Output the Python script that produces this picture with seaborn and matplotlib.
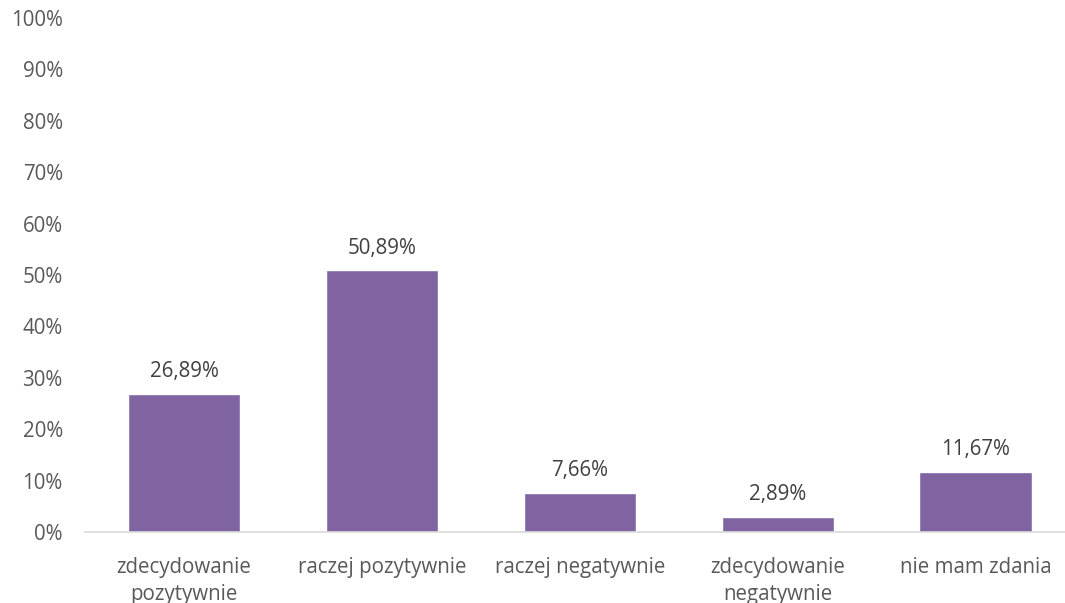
import matplotlib
matplotlib.use("Agg")
import matplotlib.pyplot as plt
import seaborn as sns
import pandas as pd

categories = ["zdecydowanie\npozytywnie", "raczej pozytywnie", "raczej negatywnie",
              "zdecydowanie\nnegatywnie", "nie mam zdania"]
values = [26.89, 50.89, 7.66, 2.89, 11.67]
value_labels = ["26,89%", "50,89%", "7,66%", "2,89%", "11,67%"]
y_ticks = [0, 10, 20, 30, 40, 50, 60, 70, 80, 90, 100]

sns.set_theme(style="white")
plt.rcParams['font.family'] = ['Open Sans', 'DejaVu Sans']

df = pd.DataFrame({"cat": categories, "val": values})

fig = plt.figure(figsize=(10.65, 6.03), dpi=100)
ax = fig.add_axes([85/1065, (603-532)/603, (1065-85)/1065, (532-18)/603])

sns.barplot(data=df, x="cat", y="val", color="#8064A2", saturation=1, width=0.57, ax=ax)

fs = 14.8
text_color = "#595959"
for i, (v, lab) in enumerate(zip(values, value_labels)):
    ax.text(i, v + 2.3, lab, ha="center", va="bottom", fontsize=fs, color="#404040")

ax.set_ylim(0, 100)
ax.set_xlim(-0.5, 4.45)
ax.set_yticks(y_ticks)
ax.set_yticklabels([f"{t}%" for t in y_ticks], fontsize=fs, color=text_color)
ax.tick_params(axis="x", labelsize=fs, labelcolor=text_color, length=0, pad=18)
ax.tick_params(axis="y", length=0, pad=16)
for t in ax.get_xticklabels():
    t.set_linespacing(1.4)
ax.set_xlabel("")
ax.set_ylabel("")
for s in ["top", "right", "left"]:
    ax.spines[s].set_visible(False)
ax.spines["bottom"].set_color("#D9D9D9")
ax.spines["bottom"].set_linewidth(1.2)

fig.savefig("out.png", dpi=100)
